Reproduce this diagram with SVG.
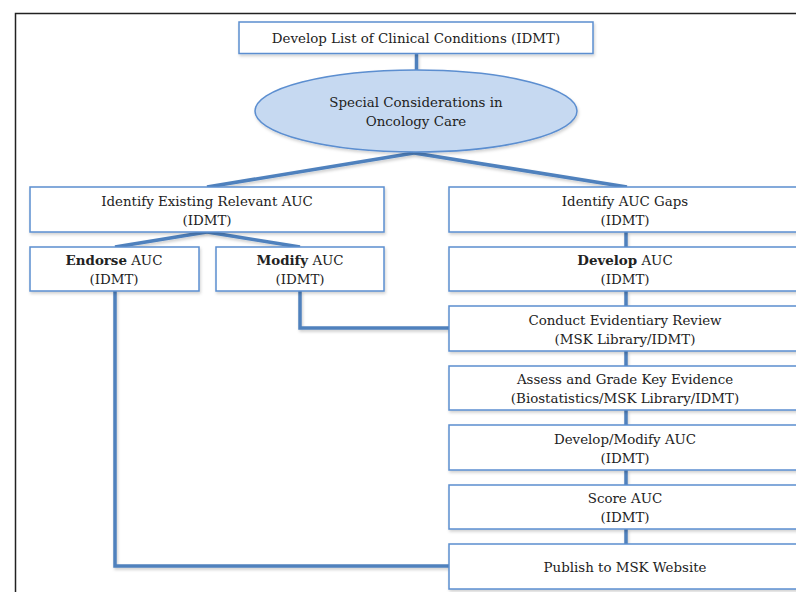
<svg xmlns="http://www.w3.org/2000/svg" width="796" height="592" viewBox="0 0 796 592">
<style>
.box{fill:#fff;stroke:#5b8ed0;stroke-width:1.5;filter:url(#sh)}
.conn{fill:none;stroke:#4f81bd;stroke-width:3.5;stroke-linejoin:miter}
text{font-family:"DejaVu Serif","Liberation Serif",serif;font-size:13.4px;fill:#222;text-anchor:middle}
.b{font-weight:bold}
</style>
<defs>
<filter id="sh" x="-10%" y="-20%" width="120%" height="150%">
<feDropShadow dx="1" dy="2" stdDeviation="1.5" flood-color="#000" flood-opacity="0.18"/>
</filter>
<filter id="lsh" x="-10%" y="-10%" width="120%" height="120%">
<feDropShadow dx="1" dy="2" stdDeviation="1.5" flood-color="#000" flood-opacity="0.2"/>
</filter>
</defs>
<rect width="796" height="592" fill="#fff"/>
<path d="M15.5 592 V13.5 H796" fill="none" stroke="#222" stroke-width="1.5"/>
<g id="connectors" filter="url(#lsh)">
<path class="conn" d="M416.5 54 V71"/>
<path class="conn" d="M414 153 L207 187"/>
<path class="conn" d="M414 153 L627 187"/>
<path class="conn" d="M207 232 L115 247"/>
<path class="conn" d="M207 232 L300 247"/>
<path class="conn" d="M626 232 V247"/>
<path class="conn" d="M626 291 V306"/>
<path class="conn" d="M626 351 V366"/>
<path class="conn" d="M626 410 V425"/>
<path class="conn" d="M626 470 V485"/>
<path class="conn" d="M626 529 V544"/>
<path class="conn" d="M300 291 V328 H449"/>
<path class="conn" d="M115 291 V566 H449"/>
</g>
<g id="n-top">
<rect class="box" x="239" y="22" width="354" height="31.5"/>
<text x="416" y="43">Develop List of Clinical Conditions (IDMT)</text>
</g>
<g id="n-special">
<ellipse cx="416" cy="111" rx="161" ry="41" fill="#c6d9f1" stroke="#5b8ed0" stroke-width="1.5" filter="url(#sh)"/>
<text x="416" y="107">Special Considerations in</text>
<text x="416" y="126">Oncology Care</text>
</g>
<g id="n-existing">
<rect class="box" x="30" y="187" width="354" height="45"/>
<text x="207" y="206">Identify Existing Relevant AUC</text>
<text x="207" y="225">(IDMT)</text>
</g>
<g id="n-gaps">
<rect class="box" x="449" y="187" width="352" height="45"/>
<text x="625" y="206">Identify AUC Gaps</text>
<text x="625" y="225">(IDMT)</text>
</g>
<g id="n-endorse">
<rect class="box" x="30" y="247" width="169" height="44"/>
<text x="114" y="265"><tspan class="b">Endorse</tspan> AUC</text>
<text x="114" y="284">(IDMT)</text>
</g>
<g id="n-modify">
<rect class="box" x="216" y="247" width="168" height="44"/>
<text x="300" y="265"><tspan class="b">Modify</tspan> AUC</text>
<text x="300" y="284">(IDMT)</text>
</g>
<g id="n-develop">
<rect class="box" x="449" y="247" width="352" height="44"/>
<text x="625" y="265"><tspan class="b">Develop</tspan> AUC</text>
<text x="625" y="284">(IDMT)</text>
</g>
<g id="n-review">
<rect class="box" x="449" y="306" width="352" height="45"/>
<text x="625" y="325">Conduct Evidentiary Review</text>
<text x="625" y="344">(MSK Library/IDMT)</text>
</g>
<g id="n-assess">
<rect class="box" x="449" y="366" width="352" height="44"/>
<text x="625" y="384">Assess and Grade Key Evidence</text>
<text x="625" y="403">(Biostatistics/MSK Library/IDMT)</text>
</g>
<g id="n-devmod">
<rect class="box" x="449" y="425" width="352" height="45"/>
<text x="625" y="444">Develop/Modify AUC</text>
<text x="625" y="463">(IDMT)</text>
</g>
<g id="n-score">
<rect class="box" x="449" y="485" width="352" height="44"/>
<text x="625" y="503">Score AUC</text>
<text x="625" y="522">(IDMT)</text>
</g>
<g id="n-publish">
<rect class="box" x="449" y="544" width="352" height="45"/>
<text x="625" y="572">Publish to MSK Website</text>
</g>
</svg>
